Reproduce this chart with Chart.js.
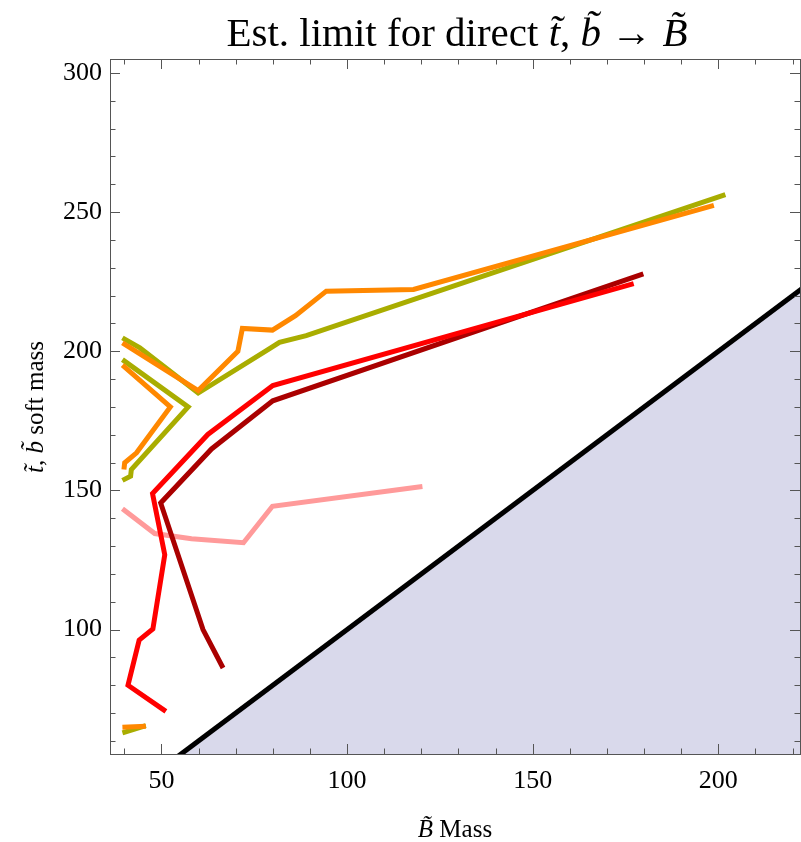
<!DOCTYPE html>
<html lang="en">

<head>
    <meta charset="UTF-8">
    <title>Est. limit for direct stop, sbottom to Bino</title>
    <script src="https://cdn.jsdelivr.net/npm/chart.js"></script>
    <style>
        body { margin: 0; background: #fff; }
        #wrap { position: relative; width: 801px; height: 842px; }
        .lbl { position: absolute; font-family: "Liberation Serif", "DejaVu Serif", serif; color: #000; white-space: nowrap; }
        #title { left: 112px; width: 690px; top: 8px; text-align: center; font-size: 41px; }
        #xtitle { left: 110px; width: 690px; top: 815px; text-align: center; font-size: 25px; }
        #ytitle { left: 35px; top: 407px; font-size: 25px; transform: translate(-50%, -50%) rotate(-90deg); }
    </style>
</head>

<body>
    <div id="wrap">
        <canvas id="grafico"></canvas>
        <div class="lbl" id="title">Est. limit for direct <i>t&#771;</i>, <i>b&#771;</i> &rarr; <i>B&#771;</i></div>
        <div class="lbl" id="xtitle"><i>B&#771;</i> Mass</div>
        <div class="lbl" id="ytitle"><i>t&#771;</i>, <i>b&#771;</i> soft mass</div>
    </div>

    <script>
        // valores
        const xTicks = [50, 100, 150, 200];
        const yTicks = [100, 150, 200, 250, 300];

        const orangeA_x = [39.5, 59.9, 70.6, 71.8, 79.9, 86.1, 94.4, 117.9, 198.8];
        const orangeA_y = [203.0, 185.9, 200.0, 208.2, 207.6, 212.8, 221.6, 222.2, 252.4];
        const oliveA_x = [39.5, 44.2, 59.9, 78.7, 81.8, 89.0, 201.9];
        const oliveA_y = [204.8, 201.2, 185.0, 200.6, 203.2, 205.6, 256.3];

        const orangeB_x = [39.5, 52.4, 43.3, 40.1, 39.9];
        const orangeB_y = [195.0, 180.0, 163.5, 159.9, 157.5];
        const oliveB_x = [39.5, 57.2, 41.9, 41.7, 39.5];
        const oliveB_y = [197.0, 180.0, 157.5, 155.1, 153.6];

        const orangeS_x = [39.5, 45.8];
        const orangeS_y = [64.9, 65.3];
        const oliveS_x = [39.5, 45.8];
        const oliveS_y = [62.9, 65.5];

        const red_x = [177.2, 80.0, 62.5, 47.6, 50.9, 47.7, 44.0, 41.0, 51.2];
        const red_y = [224.3, 187.7, 170.1, 148.9, 126.9, 100.2, 96.2, 80.0, 70.6];
        const darkRed_x = [179.8, 80.0, 63.5, 49.8, 61.2, 66.6];
        const darkRed_y = [227.8, 182.2, 164.9, 145.5, 100.0, 86.2];

        const pink_x = [39.5, 48.2, 58.1, 72.1, 79.9, 120.3];
        const pink_y = [143.4, 134.5, 132.6, 131.2, 144.3, 151.4];

        // limite cinemático (massa squark = massa bino)
        const diag_x = [0, 300];
        const diag_y = [0, 300];

        const pts = (xs, ys) => xs.map((x, i) => ({ x: x, y: ys[i] }));

        function serie(xs, ys, cor, ordem) {
            return {
                data: pts(xs, ys),
                borderColor: cor,
                borderWidth: 5,
                showLine: true,
                pointRadius: 0,
                fill: false,
                order: ordem
            };
        }

        // moldura com marcas de escala nos quatro lados
        const moldura = {
            id: 'moldura',
            afterDraw(chart) {
                const { ctx, chartArea: a, scales: { x, y } } = chart;
                ctx.save();
                ctx.strokeStyle = '#555';
                ctx.lineWidth = 1;
                ctx.beginPath();
                for (let v = Math.ceil(x.min / 10) * 10; v <= x.max; v += 10) {
                    const p = Math.round(x.getPixelForValue(v)) + 0.5;
                    const len = v % 50 === 0 ? 10 : 5.5;
                    ctx.moveTo(p, a.bottom); ctx.lineTo(p, a.bottom - len);
                    ctx.moveTo(p, a.top); ctx.lineTo(p, a.top + len);
                }
                for (let v = Math.ceil(y.min / 10) * 10; v <= y.max; v += 10) {
                    const p = Math.round(y.getPixelForValue(v)) + 0.5;
                    const len = v % 50 === 0 ? 10 : 5.5;
                    ctx.moveTo(a.left, p); ctx.lineTo(a.left + len, p);
                    ctx.moveTo(a.right, p); ctx.lineTo(a.right - len, p);
                }
                ctx.stroke();
                ctx.strokeRect(Math.round(a.left) + 0.5, Math.round(a.top) + 0.5,
                    Math.round(a.right - a.left), Math.round(a.bottom - a.top));
                ctx.restore();
            }
        };

        const ctx = document.getElementById('grafico').getContext('2d');
        const myChart = new Chart(ctx, {
            type: 'scatter',
            data: {
                datasets: [
                    {
                        data: pts(diag_x, diag_y),
                        borderColor: '#000',
                        borderWidth: 5,
                        backgroundColor: '#d9d9eb',
                        showLine: true,
                        pointRadius: 0,
                        fill: 'start',
                        order: 10
                    },
                    serie(pink_x, pink_y, '#ff9a9a', 5),
                    serie(darkRed_x, darkRed_y, '#aa0000', 4),
                    serie(red_x, red_y, '#ff0000', 3),
                    serie(oliveA_x, oliveA_y, '#a9ad00', 2),
                    serie(oliveB_x, oliveB_y, '#a9ad00', 2),
                    serie(oliveS_x, oliveS_y, '#a9ad00', 2),
                    serie(orangeA_x, orangeA_y, '#ff8800', 1),
                    serie(orangeB_x, orangeB_y, '#ff8800', 1),
                    serie(orangeS_x, orangeS_y, '#ff8800', 1)
                ]
            },
            options: {
                responsive: true,
                maintainAspectRatio: false,
                animation: false,
                layout: { padding: { top: 59, right: 1, left: 0, bottom: 0 } },
                plugins: {
                    legend: { display: false },
                    tooltip: { enabled: false }
                },
                scales: {
                    x: {
                        type: 'linear',
                        min: 36.15,
                        max: 222,
                        grid: { display: false, drawTicks: false },
                        border: { display: false },
                        afterBuildTicks: (s) => { s.ticks = xTicks.map(v => ({ value: v })); },
                        afterFit: (s) => { s.height = 88; },
                        ticks: {
                            padding: 12,
                            color: '#000',
                            maxRotation: 0,
                            font: { family: 'Liberation Serif', size: 26 }
                        }
                    },
                    y: {
                        type: 'linear',
                        min: 55.3,
                        max: 305,
                        grid: { display: false, drawTicks: false },
                        border: { display: false },
                        afterBuildTicks: (s) => { s.ticks = yTicks.map(v => ({ value: v })); },
                        afterFit: (s) => { s.width = 110; },
                        ticks: {
                            padding: 8,
                            color: '#000',
                            font: { family: 'Liberation Serif', size: 26 }
                        }
                    }
                }
            },
            plugins: [moldura]
        });
    </script>
</body>

</html>
